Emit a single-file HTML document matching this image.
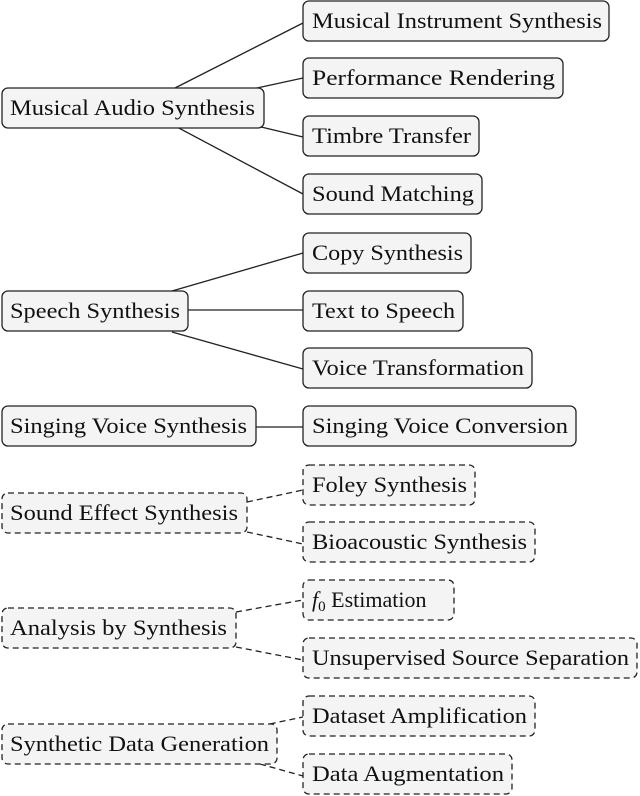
<!DOCTYPE html>
<html><head><meta charset="utf-8"><style>
html,body{margin:0;padding:0;background:#fff;}
svg{display:block;}
text{font-family:"Liberation Serif",serif;font-size:22px;fill:#111;}
.b{fill:#f4f4f4;stroke:#222;stroke-width:1.3;}
.d{stroke-dasharray:6,4;}
line{stroke:#222;stroke-width:1.3;}
</style></head><body>
<svg width="640" height="796" viewBox="0 0 640 796" xmlns="http://www.w3.org/2000/svg">
<!-- connectors solid -->
<line x1="175" y1="88" x2="303" y2="23"/>
<line x1="257" y1="88" x2="303" y2="78"/>
<line x1="257" y1="126" x2="303" y2="137"/>
<line x1="175" y1="126" x2="303" y2="194"/>
<line x1="172" y1="291" x2="303" y2="253"/>
<line x1="188" y1="310" x2="303" y2="310"/>
<line x1="172" y1="332" x2="303" y2="369"/>
<line x1="256" y1="427" x2="303" y2="427"/>
<!-- dashed connectors -->
<g class="d">
<line x1="247" y1="502" x2="303" y2="490"/>
<line x1="247" y1="532" x2="303" y2="544"/>
<line x1="236" y1="612" x2="303" y2="600"/>
<line x1="236" y1="647" x2="303" y2="660"/>
<line x1="260" y1="726" x2="303" y2="717"/>
<line x1="260" y1="764" x2="303" y2="776"/>
</g>
<!-- left boxes -->
<rect class="b" x="2" y="88" width="262" height="40" rx="6"/><text x="10" y="115" textLength="245" lengthAdjust="spacingAndGlyphs">Musical Audio Synthesis</text>
<rect class="b" x="2" y="291" width="186" height="40" rx="6"/><text x="10" y="318" textLength="170" lengthAdjust="spacingAndGlyphs">Speech Synthesis</text>
<rect class="b" x="2" y="406" width="254" height="40" rx="6"/><text x="10" y="433" textLength="237" lengthAdjust="spacingAndGlyphs">Singing Voice Synthesis</text>
<g class="d">
<rect class="b d" x="2" y="493" width="245" height="40" rx="6"/>
<rect class="b d" x="2" y="608" width="234" height="40" rx="6"/>
<rect class="b d" x="2" y="724" width="275" height="40" rx="6"/>
</g>
<text x="10" y="520" textLength="228" lengthAdjust="spacingAndGlyphs">Sound Effect Synthesis</text>
<text x="10" y="635" textLength="217" lengthAdjust="spacingAndGlyphs">Analysis by Synthesis</text>
<text x="10" y="751" textLength="259" lengthAdjust="spacingAndGlyphs">Synthetic Data Generation</text>
<!-- right solid boxes -->
<rect class="b" x="303" y="1" width="306" height="40" rx="6"/><text x="312" y="28" textLength="290" lengthAdjust="spacingAndGlyphs">Musical Instrument Synthesis</text>
<rect class="b" x="303" y="58" width="260" height="40" rx="6"/><text x="312" y="85" textLength="243" lengthAdjust="spacingAndGlyphs">Performance Rendering</text>
<rect class="b" x="303" y="116" width="176" height="40" rx="6"/><text x="312" y="143" textLength="159" lengthAdjust="spacingAndGlyphs">Timbre Transfer</text>
<rect class="b" x="303" y="174" width="179" height="40" rx="6"/><text x="312" y="201" textLength="162" lengthAdjust="spacingAndGlyphs">Sound Matching</text>
<rect class="b" x="303" y="233" width="168" height="40" rx="6"/><text x="312" y="260" textLength="151" lengthAdjust="spacingAndGlyphs">Copy Synthesis</text>
<rect class="b" x="303" y="291" width="160" height="40" rx="6"/><text x="312" y="318" textLength="143" lengthAdjust="spacingAndGlyphs">Text to Speech</text>
<rect class="b" x="303" y="348" width="229" height="40" rx="6"/><text x="312" y="375" textLength="212" lengthAdjust="spacingAndGlyphs">Voice Transformation</text>
<rect class="b" x="303" y="406" width="273" height="40" rx="6"/><text x="312" y="433" textLength="256" lengthAdjust="spacingAndGlyphs">Singing Voice Conversion</text>
<!-- right dashed boxes -->
<rect class="b d" x="303" y="465" width="172" height="40" rx="6"/><text x="312" y="492" textLength="155" lengthAdjust="spacingAndGlyphs">Foley Synthesis</text>
<rect class="b d" x="303" y="522" width="232" height="40" rx="6"/><text x="312" y="549" textLength="215" lengthAdjust="spacingAndGlyphs">Bioacoustic Synthesis</text>
<rect class="b d" x="303" y="580" width="151" height="40" rx="6"/><text x="312" y="607"><tspan font-style="italic">f</tspan><tspan font-size="15" dy="4">0</tspan><tspan dy="-4"> Estimation</tspan></text>
<rect class="b d" x="303" y="638" width="334" height="40" rx="6"/><text x="312" y="665" textLength="317" lengthAdjust="spacingAndGlyphs">Unsupervised Source Separation</text>
<rect class="b d" x="303" y="696" width="232" height="40" rx="6"/><text x="312" y="723" textLength="215" lengthAdjust="spacingAndGlyphs">Dataset Amplification</text>
<rect class="b d" x="303" y="754" width="209" height="40" rx="6"/><text x="312" y="781" textLength="192" lengthAdjust="spacingAndGlyphs">Data Augmentation</text>
</svg>
</body></html>
